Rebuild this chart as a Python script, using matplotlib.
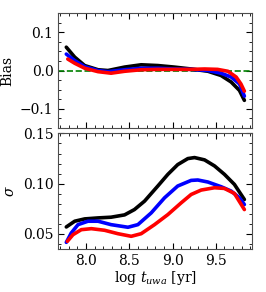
import numpy as np
import matplotlib.pyplot as plt
from matplotlib.ticker import MultipleLocator

plt.rcParams['font.family'] = 'DejaVu Serif'
plt.rcParams['mathtext.fontset'] = 'dejavuserif'

# bias panel (log t_uwa, bias)
x_bias_k = [7.773, 7.87, 7.985, 8.14, 8.254, 8.446, 8.638, 8.83, 9.02, 9.215, 9.41, 9.56, 9.677, 9.773, 9.83]
bias_k = [0.061, 0.035, 0.013, 0.002, 0.0, 0.009, 0.015, 0.013, 0.009, 0.004, -0.002, -0.013, -0.030, -0.052, -0.078]
x_bias_b = [7.773, 7.87, 7.985, 8.14, 8.254, 8.446, 8.638, 8.83, 9.02, 9.215, 9.41, 9.56, 9.677, 9.773, 9.83]
bias_b = [0.043, 0.026, 0.010, 0.0, -0.003, 0.002, 0.006, 0.006, 0.004, 0.003, 0.0, -0.007, -0.017, -0.035, -0.067]
x_bias_r = [7.79, 7.87, 7.985, 8.14, 8.29, 8.446, 8.638, 8.83, 9.02, 9.215, 9.37, 9.52, 9.64, 9.735, 9.79, 9.83]
bias_r = [0.030, 0.019, 0.006, -0.003, -0.007, -0.002, 0.002, 0.003, 0.003, 0.003, 0.004, 0.003, -0.002, -0.017, -0.035, -0.054]

# sigma panel
x_sig_k = [7.773, 7.87, 7.985, 8.14, 8.29, 8.446, 8.56, 8.677, 8.83, 8.946, 9.06, 9.177, 9.254, 9.37, 9.485, 9.6, 9.715, 9.83]
sig_k = [0.057, 0.0627, 0.065, 0.066, 0.0667, 0.069, 0.0743, 0.0827, 0.0977, 0.1093, 0.119, 0.125, 0.126, 0.1237, 0.1177, 0.1093, 0.0993, 0.0843]
x_sig_b = [7.773, 7.83, 7.908, 8.023, 8.14, 8.29, 8.485, 8.6, 8.754, 8.908, 9.06, 9.215, 9.292, 9.408, 9.562, 9.677, 9.773, 9.83]
sig_b = [0.0417, 0.051, 0.0593, 0.0627, 0.0627, 0.0593, 0.0567, 0.0593, 0.071, 0.086, 0.0977, 0.1033, 0.1037, 0.1017, 0.097, 0.0927, 0.086, 0.0793]
x_sig_r = [7.785, 7.85, 7.946, 8.062, 8.215, 8.369, 8.523, 8.638, 8.792, 8.946, 9.1, 9.215, 9.331, 9.485, 9.6, 9.715, 9.83]
sig_r = [0.0427, 0.0493, 0.0543, 0.0553, 0.0537, 0.0503, 0.0477, 0.0503, 0.0593, 0.0693, 0.081, 0.0893, 0.0937, 0.096, 0.0953, 0.0903, 0.0743]

fig = plt.figure(figsize=(2.66, 2.92), dpi=100)
ax1 = fig.add_axes([0.219, 0.562, 0.729, 0.393])
ax2 = fig.add_axes([0.219, 0.147, 0.729, 0.396])

lw = 2.6
ax1.axhline(0, color='green', ls='--', lw=1.2)
ax1.plot(x_bias_k, bias_k, color='k', lw=lw, solid_capstyle='round')
ax1.plot(x_bias_b, bias_b, color='b', lw=lw, solid_capstyle='round')
ax1.plot(x_bias_r, bias_r, color='r', lw=lw, solid_capstyle='round')
ax1.set_ylim(-0.15, 0.15)
ax1.set_ylabel('Bias', fontsize=10)
ax1.set_xticklabels([])

ax2.plot(x_sig_k, sig_k, color='k', lw=lw, solid_capstyle='round')
ax2.plot(x_sig_b, sig_b, color='b', lw=lw, solid_capstyle='round')
ax2.plot(x_sig_r, sig_r, color='r', lw=lw, solid_capstyle='round')
ax2.set_ylim(0.035, 0.15)
ax2.set_ylabel(r'$\sigma$', fontsize=10)
ax2.set_xlabel(r'log $t_{uwa}$ [yr]', fontsize=10, labelpad=1)

for ax in (ax1, ax2):
    ax.set_xlim(7.68, 9.92)
    ax.xaxis.set_major_locator(MultipleLocator(0.5))
    ax.xaxis.set_minor_locator(MultipleLocator(0.1))
    ax.yaxis.set_minor_locator(MultipleLocator(0.01 if ax is ax2 else 0.025))
    ax.tick_params(which='both', direction='in', top=True, right=True, labelsize=10)
    ax.tick_params(which='major', length=4)
    ax.tick_params(which='minor', length=2)
    for s in ax.spines.values():
        s.set_color('0.3')
ax1.yaxis.set_major_locator(MultipleLocator(0.1))
ax2.yaxis.set_major_locator(MultipleLocator(0.05))

fig.savefig('out.png', dpi=100)
